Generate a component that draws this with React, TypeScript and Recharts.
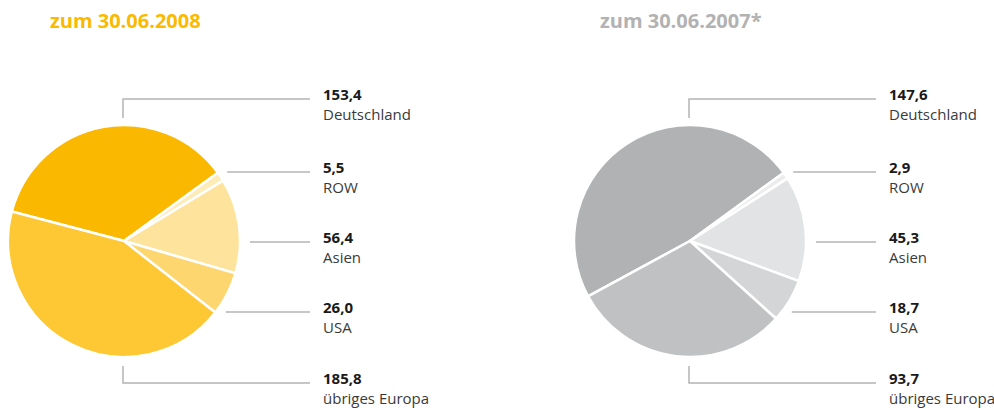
import React from "react";
import { PieChart, Pie, Cell } from "recharts";

const regions = ["Deutschland", "ROW", "Asien", "USA", "übriges Europa"];
const values2008 = [153.4, 5.5, 56.4, 26.0, 185.8];
const values2007 = [147.6, 2.9, 45.3, 18.7, 93.7];

const colors2008 = ["#fbb800", "#feecb8", "#fde39b", "#fdd670", "#fdc833"];
const colors2007 = ["#b1b2b4", "#ececed", "#e2e3e5", "#d4d5d7", "#c0c1c3"];

const toRows = (values: number[]) =>
  regions.map((name, i) => ({ name, value: values[i] }));

const data2008 = toRows(values2008);
const data2007 = toRows(values2007);

const fmt = (v: number) => v.toFixed(1).replace(".", ",");

// vertical offset of each label row, relative to the pie centre
const rowOffsets = [-142, -69, 1, 71, 142];

const renderLabel = (props: any) => {
  const { cx, cy, outerRadius, index, value, name } = props;
  const rowY = cy + rowOffsets[index];
  const lineEnd = cx + 186;
  const textX = cx + 199;
  let path: string;
  if (index === 0) {
    path = `M${cx - 1},${cy - outerRadius - 7} V${rowY} H${lineEnd}`;
  } else if (index === 4) {
    path = `M${cx - 1},${cy + outerRadius + 9} V${rowY} H${lineEnd}`;
  } else {
    const dy = rowOffsets[index];
    const x0 = cx + Math.sqrt(outerRadius * outerRadius - dy * dy) + 10;
    path = `M${x0},${rowY} H${lineEnd}`;
  }
  return (
    <g key={`lbl-${index}`}>
      <path d={path} fill="none" stroke="#b4b4b4" strokeWidth={1.5} />
      <text x={textX} y={rowY + 1} fontSize={15} fontWeight={700} fill="#1a1a1a" fontFamily="'Open Sans', sans-serif">
        {fmt(value)}
      </text>
      <text x={textX} y={rowY + 21} fontSize={15} fill="#3a3a3a" fontFamily="'Open Sans', sans-serif">
        {name}
      </text>
    </g>
  );
};

export default function App() {
  return (
    <div style={{ position: "absolute", left: 0, top: 0, background: "#fff" }}>
      <PieChart width={994} height={410} margin={{ top: 0, right: 0, bottom: 0, left: 0 }}>
        <text x={50} y={28} fontSize={20} fontWeight={700} fill="#fbb900" fontFamily="'Open Sans', sans-serif">
          zum 30.06.2008
        </text>
        <text x={600} y={28} fontSize={20} fontWeight={700} fill="#b2b2b2" fontFamily="'Open Sans', sans-serif">
          zum 30.06.2007*
        </text>
        <Pie
          data={data2008}
          dataKey="value"
          nameKey="name"
          cx={124}
          cy={241}
          outerRadius={116}
          startAngle={165.3}
          endAngle={165.3 - 360}
          stroke="#fff"
          strokeWidth={2.5}
          label={renderLabel}
          labelLine={false}
          isAnimationActive={false}
        >
          {data2008.map((d, i) => (
            <Cell key={d.name} fill={colors2008[i]} />
          ))}
        </Pie>
        <Pie
          data={data2007}
          dataKey="value"
          nameKey="name"
          cx={690}
          cy={241}
          outerRadius={116}
          startAngle={208.5}
          endAngle={208.5 - 360}
          stroke="#fff"
          strokeWidth={2.5}
          label={renderLabel}
          labelLine={false}
          isAnimationActive={false}
        >
          {data2007.map((d, i) => (
            <Cell key={d.name} fill={colors2007[i]} />
          ))}
        </Pie>
      </PieChart>
    </div>
  );
}
